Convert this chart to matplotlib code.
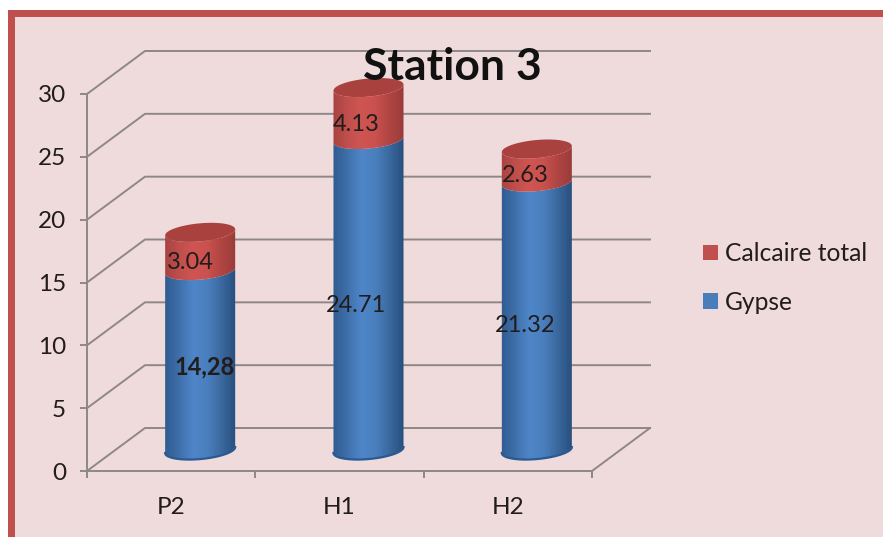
import numpy as np
import matplotlib.pyplot as plt
from matplotlib.colors import LinearSegmentedColormap
from matplotlib.patches import Patch, Polygon, Rectangle

plt.rcParams['font.family'] = ['Lato', 'DejaVu Sans']

stations = ['P2', 'H1', 'H2']
gypse = [14.28, 24.71, 21.32]
calcaire = [3.04, 4.13, 2.63]
gypse_labels = ['14,28', '24.71', '21.32']
calcaire_labels = ['3.04', '4.13', '2.63']
yticks = [0, 5, 10, 15, 20, 25, 30]

W, H = 883, 537
GRID = '#8f8787'
TEXT = '#221c1c'
BLUE = '#4a7ebb'
RED = '#c0504d'

# label nudges in pixels, the bold one sits further right
gypse_nudge = [(4, -7), (-12, -11), (-12, -9)]
calcaire_nudge = [(-10, -11), (-12, -11), (-12, -10)]


def px_axes(left, right, bottom, top):
    # axes rectangle given in pixels from the top left corner
    return fig.add_axes([left / W, 1 - bottom / H, (right - left) / W, (bottom - top) / H])


def arc(cx, cy, t):
    # tilted ellipse used for the cylinder ends
    return np.column_stack([cx + 0.208 * np.cos(t), cy + 0.72 * np.sin(t) + 0.24 * np.cos(t)])


def shaded_band(ax, cx, y0, y1, cmap, z):
    front_low = arc(cx, y0, np.linspace(np.pi, 2 * np.pi, 60))
    front_high = arc(cx, y1, np.linspace(2 * np.pi, np.pi, 60))
    clip = Polygon(np.vstack([front_low, front_high]), transform=ax.transData, fc='none', ec='none')
    ax.add_patch(clip)
    img = ax.imshow(np.linspace(0, 1, 80).reshape(1, -1), cmap=cmap, aspect='auto', zorder=z,
                    extent=[cx - 0.21, cx + 0.21, y0 - 1.5, y1 + 1.5])
    img.set_clip_path(clip)


fig = plt.figure(figsize=(W / 100, H / 100), dpi=100, facecolor='white')

# red frame and pink panel, kept behind the axes
fig.patches.append(Rectangle((8 / W, 0), 1, 1 - 10 / H, transform=fig.transFigure, fc=RED, ec='none', zorder=-2))
fig.patches.append(Rectangle((15 / W, 0), 1, 1 - 17 / H, transform=fig.transFigure, fc='#efdbdc', ec='none', zorder=-1))

ax = px_axes(87, 592, 471, 94)
ax.set_xlim(0, 3)
ax.set_ylim(0, 30)
ax.patch.set_visible(False)
for side in ['top', 'right']:
    ax.spines[side].set_visible(False)
for side in ['left', 'bottom']:
    ax.spines[side].set_color(GRID)
    ax.spines[side].set_linewidth(1.4)

# back wall and floor of the 3d box
dx = 58 / (505 / 3)
dy = 43 / (377 / 30)
for v in yticks:
    ax.plot([0, dx, 3 + dx], [v, v + dy, v + dy], color=GRID, lw=1.4, clip_on=False, zorder=1)
ax.plot([3, 3 + dx], [0, dy], color=GRID, lw=1.4, clip_on=False, zorder=1)

ax.set_xlim(0, 3)
ax.set_ylim(0, 30)
ax.set_yticks(yticks)
ax.set_xticks([0, 1, 2, 3])
ax.set_xticklabels([])
ax.set_xticks([0.5, 1.5, 2.5], minor=True)
ax.set_xticklabels(stations, minor=True)
ax.tick_params(axis='x', which='major', length=5, width=1.4, color=GRID)
ax.tick_params(axis='x', which='minor', length=0, pad=19, labelsize=17.5, labelcolor=TEXT)
ax.tick_params(axis='y', length=5, width=1.4, color=GRID, pad=10, labelsize=17.5, labelcolor=TEXT)

# cylinders live in their own axes, shifted into the depth of the box
# the axes reach below zero so the rounded base is not cut off
scale = 377 / 30
cyl = px_axes(116, 621, 450 + 3 * scale, 73)
cyl.axis('off')
blue_map = LinearSegmentedColormap.from_list('b', ['#2f5c92', '#3f70aa', '#4f86c9', '#4a7fbe', '#3a699f', '#28507f'])
red_map = LinearSegmentedColormap.from_list('r', ['#a84341', '#c04f4c', '#d05552', '#c9514e', '#b04542', '#9a3c3a'])

for i in range(len(stations)):
    cx = i + 0.5
    total = gypse[i] + calcaire[i]
    shaded_band(cyl, cx, 0, gypse[i], blue_map, 3)
    shaded_band(cyl, cx, gypse[i], total, red_map, 3)
    cyl.add_patch(Polygon(arc(cx, total, np.linspace(0, 2 * np.pi, 90)), fc='#a9423f', ec='none', zorder=4))
    cyl.plot(*arc(cx, 0, np.linspace(np.pi, 2 * np.pi, 60)).T, color='#2b5a92', lw=1.6, zorder=4)

    weight = 'bold' if ',' in gypse_labels[i] else 'normal'
    cyl.annotate(gypse_labels[i], (cx, gypse[i] / 2), xytext=gypse_nudge[i], textcoords='offset pixels',
                 ha='center', va='center', fontsize=17, color=TEXT, fontweight=weight, zorder=6)
    cyl.annotate(calcaire_labels[i], (cx, gypse[i] + calcaire[i] / 2), xytext=calcaire_nudge[i],
                 textcoords='offset pixels', ha='center', va='center', fontsize=17, color=TEXT, zorder=6)

cyl.set_xlim(0, 3)
cyl.set_ylim(-3, 30)

fig.text(452 / W, 1 - 67 / H, 'Station 3', ha='center', va='center', fontsize=32,
         fontweight='bold', color='#111111', zorder=10)

handles = [Patch(fc=RED, label='Calcaire total'), Patch(fc=BLUE, label='Gypse')]
fig.legend(handles=handles, loc='center left', bbox_to_anchor=(703 / W, 1 - 278 / H), frameon=False,
           fontsize=17.7, labelcolor=TEXT, handlelength=0.6, handleheight=0.6, handletextpad=0.3,
           labelspacing=1.05, borderpad=0, borderaxespad=0)

fig.savefig('out.png', dpi=100)
